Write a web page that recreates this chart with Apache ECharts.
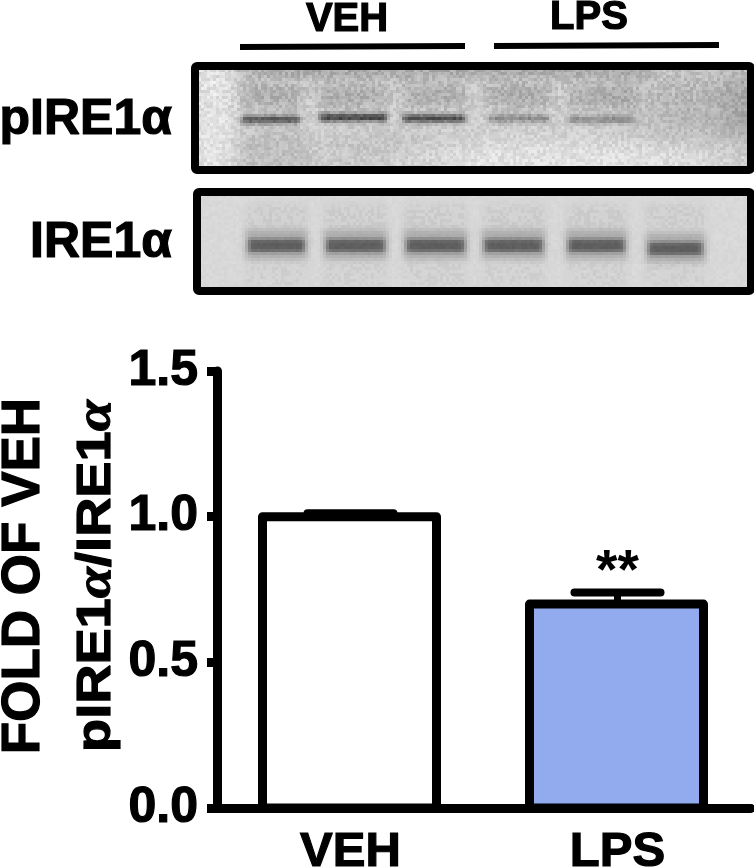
<!DOCTYPE html>
<html>
<head>
<meta charset="utf-8">
<style>html,body{margin:0;padding:0;background:#fff}#c{width:754px;height:868px}</style>
<script src="https://cdn.jsdelivr.net/npm/echarts@6/dist/echarts.min.js"></script>
</head>
<body>
<div id="c"></div>
<script>
var categories = ['VEH', 'LPS'];
var foldValues = [1.0, 0.7];
var errorValues = [0.012, 0.04];
var significance = ['', '**'];
var barColors = ['#ffffff', '#92abee'];

var FONT = '"Liberation Sans", Arial, sans-serif';

// Blot artwork (page pixels: left, right, centre y, darkness)
var pBands = [[240,298,118,115],[318,385,116,135],[401,464,117,125],[487,548,117,65],[567,632,118,60]];
var pSmears = [[238,300],[318,385],[401,464],[485,548],[567,632]];
var tBands = [[245,305,243],[323,385,243],[403,465,243],[481,543,243],[565,625,243],[645,703,246]];

function hash(x,y){var s=Math.sin(x*12.9898+y*78.233)*43758.5453;return s-Math.floor(s);}
function box(v,a,b,s){return 1/(1+Math.exp((a-v)/s))*1/(1+Math.exp((v-b)/s));}
function paint(w,h,ox,oy,fn){
  var cv=document.createElement('canvas');cv.width=w;cv.height=h;
  var g=cv.getContext('2d'),step=3;
  for(var y=0;y<h;y+=step){for(var x=0;x<w;x+=step){
    var c=Math.max(0,Math.min(255,Math.round(fn(x+ox,y+oy,hash(x,y)-0.5))));
    g.fillStyle='rgb('+c+','+c+','+c+')';g.fillRect(x,y,step,step);
  }}
  return cv;
}
function pBlot(x,y,n){
  var v=206;
  v+=22*box(x,190,232,6);                    // pale left strip
  v+=22*box(x,400,720,20)*box(y,142,175,6);  // pale lower middle
  v-=16*box(x,236,305,5)*box(y,128,170,5);
  v-=45*box(y,60,76,4)*box(x,236,650,8);     // dark top edge
  v-=32*box(x,640,760,18)*box(y,78,135,12);  // dark right smear
  v-=25*box(x,725,760,6)*box(y,60,135,10);
  v-=12*box(x,330,460,12)*box(y,130,165,6);
  pSmears.forEach(function(s){v-=32*box(x,s[0],s[1],4)*box(y,84,106,3);});
  v+=n*(y<110?36:28);
  pBands.forEach(function(b){v-=b[3]*box(x,b[0],b[1],1.6)*Math.exp(-Math.pow((y-b[2])/4.4,2));});
  return v;
}
function tBlot(x,y,n){
  var v=216;
  tBands.forEach(function(b){
    var lane=box(x,b[0]-1,b[1]+1,2);
    v-=12*lane*box(y,202,228,3)*(n>0.05?1.4:0.3);
    v-=10*lane*box(y,258,286,3)*(n>0.15?1.4:0.2);
    v-=44*lane*box(y,b[2]-15,b[2]+15,2);
    v-=78*box(x,b[0]+2,b[1]-2,1.5)*Math.exp(-Math.pow((y-b[2]-1)/7,4));
  });
  return v+n*7;
}
function label(text,x,y,size,rot,anchor){
  return {type:'text',z:20,x:x,y:y,rotation:rot||0,
    style:{text:text,font:'bold '+size+'px '+FONT,fill:'#000',textAlign:anchor||'center',textVerticalAlign:'middle',
      stroke:'#000',lineWidth:1.2}};
}
var graphics = [];
graphics.push({type:'image',z:1,style:{image:paint(556,104,195,66,pBlot),x:195,y:66,width:556,height:104}});
graphics.push({type:'rect',z:8,shape:{x:195,y:66,width:556,height:104,r:2},style:{fill:'none',stroke:'#000',lineWidth:8}});
graphics.push({type:'image',z:1,style:{image:paint(554,99,197,192,tBlot),x:197,y:192,width:554,height:99}});
graphics.push({type:'rect',z:8,shape:{x:197,y:192,width:554,height:99,r:2},style:{fill:'none',stroke:'#000',lineWidth:8}});
graphics.push({type:'line',z:9,shape:{x1:240,y1:47,x2:465,y2:46},style:{stroke:'#000',lineWidth:6}});
graphics.push({type:'line',z:9,shape:{x1:494,y1:46,x2:719,y2:45},style:{stroke:'#000',lineWidth:6}});
graphics.push(label('VEH',347,20,40));
graphics.push(label('LPS',589,18,40));
graphics.push(label('pIRE1α',172,120,50,0,'right'));
graphics.push(label('IRE1α',172,243,50,0,'right'));
graphics.push(label('FOLD OF VEH',24,576,53,Math.PI/2));
// Second line of the y title: stretched along its length, serif alpha
graphics.push({type:'text',z:20,x:97,y:576,rotation:Math.PI/2,scaleX:1.13,
  style:{text:'{t|pIRE1}{a|α}{t|/IRE1}{a|α}',textAlign:'center',textVerticalAlign:'middle',fill:'#000',
    rich:{
      t:{font:'bold 48px '+FONT,fill:'#000',stroke:'#000',lineWidth:1.2},
      a:{font:'italic bold 50px "Liberation Serif", serif',fill:'#000',stroke:'#000',lineWidth:1}
    }}});

var chart = echarts.init(document.getElementById('c'),null,{renderer:'canvas'});
chart.setOption({
  animation:false,
  backgroundColor:'#fff',
  grid:{left:217,right:3,top:371,height:437,containLabel:false,outerBoundsMode:'none'},
  xAxis:{type:'category',data:categories,z:5,
    axisLine:{onZero:false,lineStyle:{color:'#000',width:9}},
    axisTick:{alignWithLabel:true,length:13,lineStyle:{color:'#000',width:9}},
    axisLabel:{color:'#000',fontFamily:FONT,fontWeight:'bold',fontSize:49,margin:20,textBorderColor:'#000',textBorderWidth:1.2}},
  yAxis:{type:'value',min:0,max:1.5,interval:0.5,z:5,
    axisLine:{show:true,lineStyle:{color:'#000',width:9}},
    axisTick:{show:true,length:10,lineStyle:{color:'#000',width:9}},
    splitLine:{show:false},
    axisLabel:{color:'#000',fontFamily:FONT,fontWeight:'bold',fontSize:50,margin:19,textBorderColor:'#000',textBorderWidth:1.2,
      formatter:function(v){return v.toFixed(1);}}},
  graphic:{elements:graphics},
  series:[
    {type:'custom',z:2,clip:false,
      data:foldValues.map(function(v,i){return [i,v,errorValues[i]];}),
      encode:{x:0,y:1},
      renderItem:function(params,api){
        var i=api.value(0),v=api.value(1),e=api.value(2);
        var base=api.coord([i,v]),top=api.coord([i,v+e]),zero=api.coord([i,0]);
        var s=significance[params.dataIndex];
        var kids=[
          {type:'line',z2:1,shape:{x1:base[0],y1:base[1],x2:top[0],y2:top[1]},style:{stroke:'#000',lineWidth:7}},
          {type:'line',z2:1,shape:{x1:top[0]-43,y1:top[1],x2:top[0]+43,y2:top[1]},style:{stroke:'#000',lineWidth:8,lineCap:'round'}},
          {type:'rect',z2:2,shape:{x:base[0]-87-1,y:base[1],width:174,height:zero[1]-base[1]},
            style:{fill:barColors[params.dataIndex],stroke:'#000',lineWidth:9,lineJoin:'round'}}
        ];
        if(s){kids.push({type:'text',z2:3,x:top[0],y:top[1]-20,style:{text:s,font:'bold 55px '+FONT,fill:'#000',textAlign:'center',textVerticalAlign:'middle'}});}
        return {type:'group',children:kids};
      }}
  ]
});
</script>
</body>
</html>
